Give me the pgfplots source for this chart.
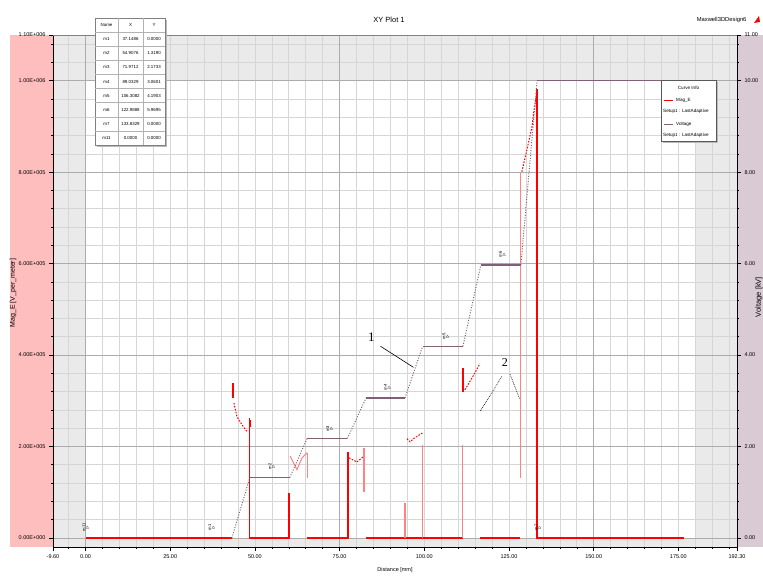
\documentclass[border=0pt]{standalone}
\usepackage{pgfplots}
\pgfplotsset{compat=1.18}
\usepackage{fontspec}
\setmainfont{Liberation Sans}
\newfontfamily\seriffont{Liberation Serif}
\definecolor{pinkband}{RGB}{255,190,190}
\definecolor{lilacband}{RGB}{218,202,212}
\definecolor{bggrey}{RGB}{234,234,234}
\definecolor{gridminor}{RGB}{214,214,214}
\definecolor{gridmajor}{RGB}{172,172,172}
\definecolor{volt}{RGB}{128,96,118}
\definecolor{lightred}{RGB}{255,130,130}
\pgfplotsset{myax/.style={at={(0,0)}, anchor=south west, scale only axis,
  width=684pt, height=512pt, xmin=-9.6, xmax=192.3},
  every tick label/.append style={font=\fontsize{5.5}{6}\selectfont}}
\begin{document}
\begin{tikzpicture}[x=1pt,y=1pt]
\useasboundingbox (-53,-30) rectangle (710,547);
\fill[pinkband] (-43,0) rectangle (0,512);
\fill[lilacband] (684,0) rectangle (710,512);
% background regions
\begin{axis}[myax, ymin=-2e4, ymax=1.1e6, hide axis]
\fill[bggrey] (axis cs:-9.6,-2e4) rectangle (axis cs:192.3,1.1e6);
\fill[white] (axis cs:0,0) rectangle (axis cs:180,1e6);
\end{axis}
% Mag_E axis (left)
\begin{axis}[myax, ymin=-2e4, ymax=1.1e6,
  scaled y ticks=false,
  axis line style={black, line width=0.8pt},
  tick align=outside, xtick pos=left, ytick pos=left,
  major tick length=4pt, minor tick length=2pt,
  tick style={black, line width=0.5pt},
  xtick={-9.6,0,25,50,75,100,125,150,175,192.3},
  xticklabels={-9.60,0.00,25.00,50.00,75.00,100.00,125.00,150.00,175.00,192.30},
  minor xtick={-5,5,10,15,20,30,35,40,45,55,60,65,70,80,85,90,95,105,110,115,120,130,135,140,145,155,160,165,170,180,185,190},
  ytick={0,2e5,4e5,6e5,8e5,1e6,1.1e6},
  yticklabels={0.00E+000,2.00E+005,4.00E+005,6.00E+005,8.00E+005,1.00E+006,1.10E+006},
  minor ytick={4e4,8e4,12e4,16e4,24e4,28e4,32e4,36e4,44e4,48e4,52e4,56e4,64e4,68e4,72e4,76e4,84e4,88e4,92e4,96e4,104e4,108e4},
  grid=both,
  major grid style={gridmajor, line width=0.7pt},
  minor grid style={gridminor, line width=0.6pt},
  major x grid style={gridminor, line width=0.6pt},
  extra x ticks={0,75,150}, extra x tick labels={},
  extra x tick style={major x grid style={gridmajor, line width=0.8pt}, major tick length=0pt},
  unbounded coords=jump, clip=true]
% solid red pieces
\addplot[red, line width=1.3pt] table {
x y
0 0
43.2 0
nan nan
48.5 2.63e5
48.5 0
60.1 0
60.1 0.98e5
nan nan
65.4 0
77.5 0
77.5 1.88e5
nan nan
82.8 0
111.4 0
nan nan
116.4 0
128.2 0
nan nan
133.3 9.81e5
133.3 0
176.7 0
};
% light red verticals
\addplot[lightred, line width=1.1pt] table {
x y
94.3 0
94.3 0.76e5
nan nan
99.5 0
99.5 2.03e5
nan nan
111.4 0
111.4 2.03e5
nan nan
128.5 1.31e5
128.5 7.99e5
nan nan
82.2 1.0e5
82.2 1.97e5
nan nan
65.4 1.31e5
65.4 1.86e5
};
% thick short pieces
\addplot[red, line width=2pt] table {
x y
43.5 3.06e5
43.5 3.39e5
nan nan
111.4 3.2e5
111.4 3.72e5
nan nan
48.5 2.42e5
48.5 2.58e5
};
% dashed red curves
\addplot[red, line width=1pt, dash pattern=on 1.6pt off 1.4pt] table {
x y
43.8 2.95e5
44.7 2.65e5
46.2 2.47e5
47.7 2.32e5
nan nan
77.8 1.75e5
80.1 1.66e5
81.9 1.77e5
nan nan
94.9 2.17e5
95.8 2.10e5
97.2 2.19e5
99.6 2.30e5
nan nan
112.0 3.24e5
114.1 3.50e5
116.4 3.81e5
nan nan
128.8 8.01e5
130.3 8.49e5
131.8 9.00e5
132.4 9.37e5
133.3 9.76e5
};
\addplot[lightred, line width=1pt] table {
x y
60.4 1.79e5
62.4 1.49e5
63.9 1.75e5
65.4 1.86e5
};
% annotations
\node[font=\seriffont\fontsize{13}{13}\selectfont] at (axis cs:84.4,4.39e5) {1};
\draw[black, line width=0.6pt] (axis cs:87.1,4.19e5) -- (axis cs:96.8,3.73e5);
\node[font=\seriffont\fontsize{12}{12}\selectfont] at (axis cs:123.8,3.84e5) {2};
\draw[black, line width=0.6pt, dash pattern=on 0.8pt off 1pt] (axis cs:122.9,3.53e5) -- (axis cs:116.5,2.77e5);
\draw[black, line width=0.6pt, dash pattern=on 0.8pt off 1pt] (axis cs:125.3,3.58e5) -- (axis cs:128.2,3.03e5);
% marker labels
\begin{scope}[every node/.style={rotate=90, font=\fontsize{4.2}{4.2}\selectfont, text=black, inner sep=0.5pt, align=center}]
\node at (axis cs:0,2.3e4) {m11\\[-0.8pt]$\triangleright$};
\node at (axis cs:37.15,2.3e4) {m1\\[-0.8pt]$\triangleright$};
\node at (axis cs:54.9,1.56e5) {m2\\[-0.8pt]$\triangleright$};
\node at (axis cs:71.97,2.39e5) {m3\\[-0.8pt]$\triangleright$};
\node at (axis cs:89.03,3.29e5) {m4\\[-0.8pt]$\triangleright$};
\node at (axis cs:106.3,4.41e5) {m5\\[-0.8pt]$\triangleright$};
\node at (axis cs:122.99,6.2e5) {m6\\[-0.8pt]$\triangleright$};
\node at (axis cs:133.5,2.3e4) {m7\\[-0.8pt]$\triangleright$};
\end{scope}
\end{axis}
% Voltage axis (right)
\begin{axis}[myax, ymin=-0.2, ymax=11,
  hide x axis, axis y line*=right,
  y axis line style={-, black, line width=0.8pt},
  tick align=outside, major tick length=4pt, minor tick length=2pt,
  tick style={black, line width=0.5pt},
  ytick={0,2,4,6,8,10,11},
  yticklabels={0.00,2.00,4.00,6.00,8.00,10.00,11.00},
  minor ytick={0.4,0.8,1.2,1.6,2.4,2.8,3.2,3.6,4.4,4.8,5.2,5.6,6.4,6.8,7.2,7.6,8.4,8.8,9.2,9.6,10.4,10.8},
  unbounded coords=jump, clip=true]
% flats (solid)
\addplot[volt, line width=1.1pt] table {
x y
48.5 1.319
60.3 1.319
nan nan
65.4 2.1733
77.3 2.1733
nan nan
82.8 3.0601
94.3 3.0601
nan nan
99.5 4.1903
111.4 4.1903
nan nan
116.7 5.9695
128.5 5.9695
nan nan
133.3 10
180 10
};
% rises (dotted)
\addplot[volt, line width=1pt, dash pattern=on 1pt off 1.6pt] table {
x y
43.2 0
48.5 1.319
nan nan
60.3 1.319
65.4 2.1733
nan nan
77.3 2.1733
82.8 3.0601
nan nan
94.3 3.0601
99.5 4.1903
nan nan
111.4 4.1903
116.7 5.9695
nan nan
128.5 5.9695
133.3 10
};
\end{axis}
\draw[gray, line width=0.8pt] (0,512) -- (684,512);
% axis labels and titles
\node[font=\fontsize{7.5}{8}\selectfont] at (336,527) {XY Plot 1};
\node[font=\fontsize{5.8}{6}\selectfont, anchor=east] at (697,527) {Maxwell3DDesign6};
\fill[red] (701,524) -- (706,531) -- (707,525) -- cycle;
\node[font=\fontsize{5.5}{6}\selectfont] at (342,-23) {Distance [mm]};
\node[rotate=90, font=\fontsize{7}{7}\selectfont] at (-40,254) {Mag\_E [V\_per\_meter]};
\node[rotate=90, font=\fontsize{7.5}{8}\selectfont] at (706,250) {Voltage [kV]};
% marker table
\fill[gray!55] (44,400) rectangle (114,527);
\fill[white] (42,402) rectangle (112,529);
\draw[gray, line width=0.6pt] (42,402) rectangle (112,529);
\foreach \i in {1,...,8} {\draw[gray!60, line width=0.4pt] (42,{529-14.11*\i}) -- (112,{529-14.11*\i});}
\draw[gray!60, line width=0.4pt] (65,402) -- (65,529);
\draw[gray!60, line width=0.4pt] (90,402) -- (90,529);
\begin{scope}[every node/.style={font=\fontsize{4.4}{5}\selectfont, inner sep=0pt}]
\node at (53.5,521.9) {Name}; \node at (77.5,521.9) {X}; \node at (101,521.9) {Y};
\foreach \n/\xv/\yv [count=\k] in {m1/37.1486/0.0000, m2/54.9076/1.3190, m3/71.9712/2.1733, m4/89.0329/3.0601, m5/106.3082/4.1903, m6/122.9888/5.9695, m7/133.8329/0.0000, m11/0.0000/0.0000} {
  \node at (53.5,{521.9-14.11*\k}) {\n};
  \node at (77.5,{521.9-14.11*\k}) {\xv};
  \node at (101,{521.9-14.11*\k}) {\yv};
}
\end{scope}
% legend
\fill[gray!55] (610,404) rectangle (665,465);
\fill[white] (608,406) rectangle (663,467);
\draw[gray!70!black, line width=0.6pt] (608,406) rectangle (663,467);
\begin{scope}[every node/.style={font=\fontsize{4.6}{5}\selectfont, inner sep=0pt}]
\node at (635.5,459) {Curve Info};
\draw[red, line width=1pt] (610.5,446) -- (620,446);
\node[anchor=west] at (623,446.5) {Mag\_E};
\node[anchor=west] at (610,436) {Setup1 : LastAdaptive};
\draw[volt, line width=1pt] (610.5,422) -- (620,422);
\node[anchor=west] at (623,422.5) {Voltage};
\node[anchor=west] at (610,412) {Setup1 : LastAdaptive};
\end{scope}
\end{tikzpicture}
\end{document}
